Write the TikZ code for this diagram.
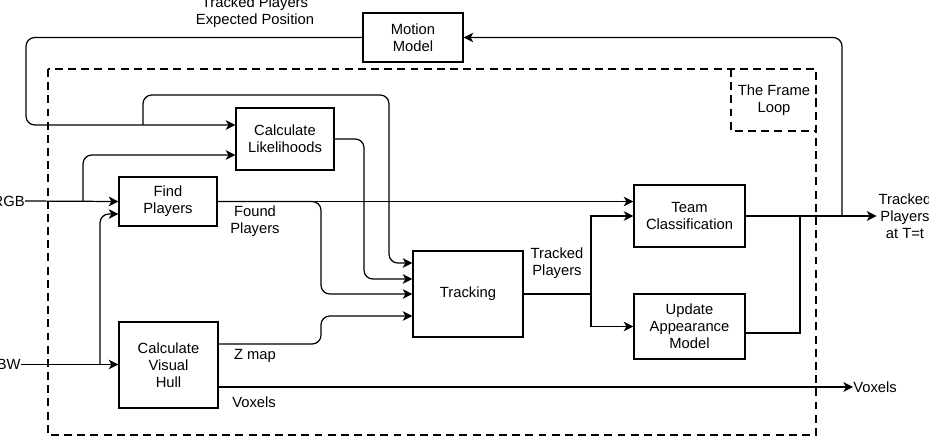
\documentclass[tikz,border=0pt]{standalone}
\usepackage{fontspec}
\setmainfont{Liberation Sans}
\usetikzlibrary{arrows.meta}

\begin{document}
\begin{tikzpicture}[x=0.02cm,y=-0.02cm,font=\fontsize{8.4}{9.7}\selectfont,
	blk/.style={draw,fill=white,line width=0.7pt,align=center,inner sep=0pt},
	lbl/.style={align=center,inner sep=0pt},
	wire/.style={line width=0.7pt},
	arr/.style={wire,-{Stealth[length=5.5pt,width=5.5pt,inset=1.5pt]}},
	frame/.style={line width=1.4pt,dash pattern=on 4.5pt off 3pt}]
	\useasboundingbox (0,0) rectangle (929,436);
	\draw [frame] (48,69) rectangle (816,435);
	\draw [frame] (731,69) rectangle (816,131);
	\node [lbl] (loop) at (774,100) {The Frame\\Loop};
	\node [blk,minimum width=2cm,minimum height=0.98cm] (motion) at (413,37.5) {Motion\\Model};
	\node [blk,minimum width=1.96cm,minimum height=1.24cm] (lik) at (285,139) {Calculate\\Likelihoods};
	\node [blk,minimum width=1.96cm,minimum height=0.98cm] (find) at (168,201.5) {Find\\Players};
	\node [blk,minimum width=1.98cm,minimum height=1.72cm] (hull) at (168.5,365) {Calculate\\Visual\\Hull};
	\node [blk,minimum width=2.2cm,minimum height=1.72cm] (track) at (468,294) {Tracking};
	\node [blk,minimum width=2.22cm,minimum height=1.24cm] (team) at (689.5,216) {Team\\Classification};
	\node [blk,minimum width=2.22cm,minimum height=1.3cm] (update) at (689.5,326.5) {Update\\Appearance\\Model};
	\node [lbl,anchor=east] (rgb) at (25,201) {RGB};
	\node [lbl,anchor=east] (bw) at (21,364.5) {BW};
	\node [lbl,anchor=west] (voxout) at (853,387) {Voxels};
	\node [lbl,inner sep=1pt] (out) at (905,216) {Tracked\\Players\\at T=t};
	\node [lbl] (expected) at (255,12.5) {Tracked Players\\Expected Position};
	\node [lbl] (found) at (255,221) {Found\\Players};
	\node [lbl] (zmap) at (255,356) {Z map};
	\node [lbl] (voxlbl) at (254,402) {Voxels};
	\node [lbl] (tracked) at (557,263.5) {Tracked\\Players};
	\coordinate (fb) at (842,216);
	\coordinate (tsplit) at (591,294);
	\coordinate (usplit) at (800,216);
	\draw [arr,rounded corners=5pt] (fb) |- (motion.east);
	\draw [arr,rounded corners=5pt] (motion.west) -| (26,125) -- (lik.west |- 0,125);
	\draw [arr,rounded corners=5pt] (143,125) |- (389,95) |- (track.west |- 0,263);
	\draw [arr,rounded corners=5pt] (lik.east) -| (364,279) -- (track.west |- 0,279);
	\draw [arr] (rgb.east) -- (find.west);
	\draw [arr,rounded corners=5pt] (83,201.5) |- (lik.west |- 0,155);
	\draw [arr] (bw.east) -- (hull.west |- bw.east);
	\draw [arr,rounded corners=5pt] (100,364.5) |- (find.west |- 0,214);
	\draw [arr] (find.east) -- (team.west |- find.east);
	\draw [arr,rounded corners=5pt] (find.east) -| (321,294) -- (track.west);
	\draw [arr,rounded corners=5pt] (hull.east |- 0,344) -| (321,316) -- (track.west |- 0,316);
	\draw [arr] (hull.east |- 0,387) -- (voxout.west);
	\draw [wire] (track.east) -- (tsplit);
	\draw [arr] (tsplit) |- (team.west);
	\draw [arr] (tsplit) |- (update.west);
	\draw [arr] (team.east) -- (out.west |- team.east);
	\draw [wire] (update.east |- 0,333) -| (usplit);
\end{tikzpicture}
\end{document}
